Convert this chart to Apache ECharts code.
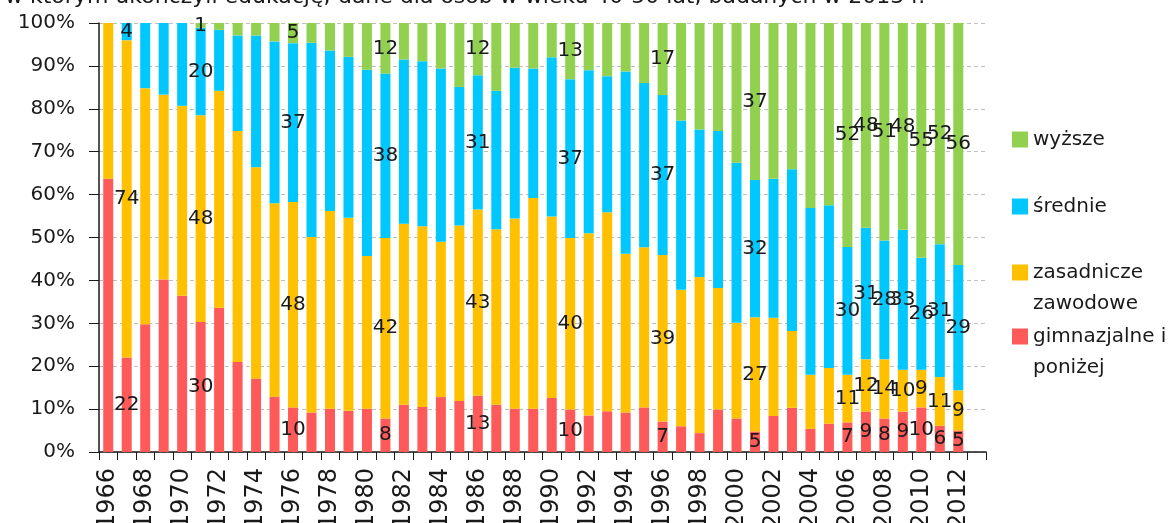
<!DOCTYPE html>
<html lang="pl">
<head>
    <meta charset="UTF-8">
    <title>Wykształcenie według roku ukończenia edukacji</title>
    <script src="https://cdn.jsdelivr.net/npm/echarts@6/dist/echarts.min.js"></script>
</head>
<style>
    html,body{
        padding: 0;
        margin: 0;
        background: #fff;
    }
</style>
<body>
<div id="chart" style="width: 1175px;height:523px;"></div>
</body>
<script type="text/javascript">
    // lata (ostatnia pozycja 2013 pusta, jak na oryginale)
    var years = ['1966','1967','1968','1969','1970','1971','1972','1973','1974','1975',
        '1976','1977','1978','1979','1980','1981','1982','1983','1984','1985',
        '1986','1987','1988','1989','1990','1991','1992','1993','1994','1995',
        '1996','1997','1998','1999','2000','2001','2002','2003','2004','2005',
        '2006','2007','2008','2009','2010','2011','2012','2013'];

    // udział w %
    var gimnazjalne = [63.7, 22, 29.8, 40.2, 36.4, 30.3, 33.6, 21.0, 17.1, 12.9,
        10.4, 9.2, 10.1, 9.6, 10.1, 7.8, 11.0, 10.5, 12.8, 11.9,
        13.1, 11.0, 10.1, 10.1, 12.6, 9.9, 8.5, 9.5, 9.2, 10.4,
        7.1, 6.0, 4.4, 9.9, 7.8, 4.8, 8.4, 10.3, 5.4, 6.6,
        6.9, 9.4, 7.8, 9.4, 10.4, 6.1, 5.0];
    var zasadnicze = [36.3, 74, 55.0, 43.1, 44.3, 48.2, 50.6, 53.8, 49.3, 45.1,
        47.9, 40.9, 46.1, 45.0, 35.6, 42.1, 42.2, 42.1, 36.2, 40.9,
        43.4, 40.9, 44.3, 49.1, 42.3, 40.0, 42.5, 46.4, 37.0, 37.3,
        38.8, 31.8, 36.4, 28.3, 22.3, 26.6, 22.9, 17.9, 12.6, 13.0,
        11.1, 12.2, 13.8, 9.8, 8.8, 11.4, 9.4];
    var srednie = [0, 4, 15.2, 16.7, 19.3, 20.4, 14.2, 22.3, 30.7, 37.7,
        37.0, 45.3, 37.4, 37.5, 43.4, 38.3, 38.3, 38.5, 40.4, 32.3,
        31.3, 32.3, 35.2, 30.2, 37.1, 37.0, 38.0, 31.7, 42.5, 38.3,
        37.3, 39.5, 34.4, 36.6, 37.3, 32.0, 32.4, 37.7, 38.9, 37.9,
        29.8, 30.7, 27.7, 32.6, 26.1, 30.9, 29.2];
    var wyzsze = [0, 0, 0, 0, 0, 1.1, 1.6, 2.9, 2.9, 4.3,
        4.7, 4.6, 6.4, 7.9, 10.9, 11.8, 8.5, 8.9, 10.6, 14.9,
        12.2, 15.8, 10.4, 10.6, 8.0, 13.1, 11.0, 12.4, 11.3, 14.0,
        16.8, 22.7, 24.8, 25.2, 32.6, 36.6, 36.3, 34.1, 43.1, 42.5,
        52.2, 47.7, 50.7, 48.2, 54.7, 51.6, 56.4];

    // lata z opisanymi wartościami
    var labeledYears = ['1967','1971','1976','1981','1986','1991','1996','2001',
        '2006','2007','2008','2009','2010','2011','2012'];

    var yTicks = [0, 10, 20, 30, 40, 50, 60, 70, 80, 90, 100];

    var legendText = {
        'wyższe': 'wyższe',
        'średnie': 'średnie',
        'zasadnicze zawodowe': 'zasadnicze\nzawodowe',
        'gimnazjalne i poniżej': 'gimnazjalne i\nponiżej'
    };

    var font = 'DejaVu Sans';
    // kwadrat przy pierwszej linii opisu dwuwierszowego
    var topSquare = 'path://M0,0h0.01v0.01h-0.01z M0,7.5h16v16h-16z M0,61.99h0.01v0.01h-0.01z';
    var myChart = echarts.init(document.getElementById('chart'));

    function makeSeries(name, data, color) {
        return {
            name: name,
            type: 'bar',
            stack: 'total',
            barWidth: 10,
            data: data,
            itemStyle: {color: color},
            label: {
                show: true,
                position: 'inside',
                color: '#1a1a1a',
                fontFamily: font,
                fontSize: 20,
                formatter: function (p) {
                    if (labeledYears.indexOf(p.name) < 0 || !p.value) return '';
                    return Math.round(p.value);
                }
            }
        };
    }

    function makeLegend(name, top, twoLines) {
        return {
            data: [name],
            orient: 'vertical',
            left: 1007,
            top: top,
            icon: twoLines ? topSquare : 'rect',
            itemWidth: 16,
            itemHeight: twoLines ? 62 : 16,
            itemGap: 5,
            selectedMode: false,
            formatter: function (n) { return legendText[n]; },
            textStyle: {
                fontFamily: font,
                fontSize: 20,
                color: '#1a1a1a',
                lineHeight: 31
            }
        };
    }

    var option = {
        animation: false,
        title: {
            text: 'w którym ukończyli edukację; dane dla osób w wieku 40-50 lat, badanych w 2013 r.',
            left: 0,
            top: -19,
            textStyle: {fontFamily: font, fontSize: 22, fontWeight: 'normal', color: '#1a1a1a'}
        },
        legend: [
            makeLegend('wyższe', 119, false),
            makeLegend('średnie', 186, false),
            makeLegend('zasadnicze zawodowe', 252, true),
            makeLegend('gimnazjalne i poniżej', 316, true)
        ],
        grid: {left: 99, right: 189, top: 23, bottom: 71, outerBoundsMode: 'none'},
        xAxis: {
            type: 'category',
            data: years,
            boundaryGap: true,
            axisLine: {lineStyle: {color: '#1a1a1a', width: 1.5}},
            axisTick: {show: true, interval: 0, length: 8, lineStyle: {color: '#1a1a1a'}},
            axisLabel: {
                interval: 1,
                rotate: 90,
                margin: 16,
                fontFamily: font,
                fontSize: 24,
                color: '#1a1a1a'
            }
        },
        yAxis: {
            type: 'value',
            min: yTicks[0],
            max: yTicks[yTicks.length - 1],
            interval: 10,
            axisLine: {show: true, lineStyle: {color: '#1a1a1a', width: 1.5}},
            axisTick: {show: true, length: 10, lineStyle: {color: '#1a1a1a'}},
            axisLabel: {
                formatter: '{value}%',
                margin: 24,
                fontFamily: font,
                fontSize: 20,
                color: '#1a1a1a'
            },
            splitLine: {lineStyle: {color: '#bfbfbf', type: [4, 3]}}
        },
        series: [
            makeSeries('gimnazjalne i poniżej', gimnazjalne, '#ff5a5a'),
            makeSeries('zasadnicze zawodowe', zasadnicze, '#ffc000'),
            makeSeries('średnie', srednie, '#00c8ff'),
            makeSeries('wyższe', wyzsze, '#92d050')
        ]
    };

    myChart.setOption(option);
</script>
</html>
